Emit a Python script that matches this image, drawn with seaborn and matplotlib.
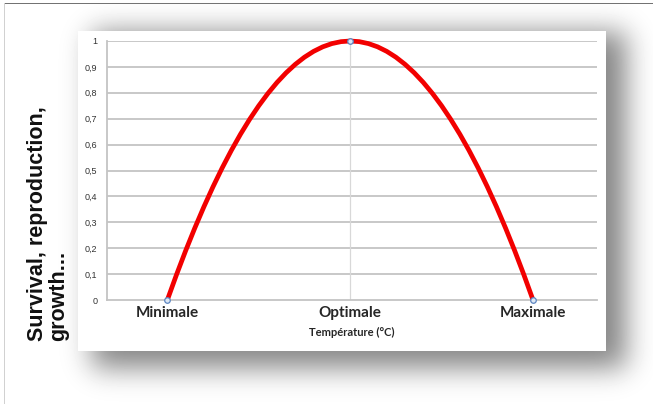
import math
import numpy as np
import pandas as pd
import matplotlib
matplotlib.use("Agg")
import matplotlib.pyplot as plt
import seaborn as sns

# values (41 points, Minimale -> Optimale -> Maximale)
temp_pos = list(range(41))
survival = [0, 0.0975, 0.19, 0.2775, 0.36, 0.4375, 0.51, 0.5775, 0.64, 0.6975,
            0.75, 0.7975, 0.84, 0.8775, 0.91, 0.9375, 0.96, 0.9775, 0.99, 0.9975,
            1.0,
            0.9975, 0.99, 0.9775, 0.96, 0.9375, 0.91, 0.8775, 0.84, 0.7975, 0.75,
            0.6975, 0.64, 0.5775, 0.51, 0.4375, 0.36, 0.2775, 0.19, 0.0975, 0]
x_tick_pos = [0, 20, 40]
x_tick_labels = ["Minimale", "Optimale", "Maximale"]
y_ticks = [0, 0.1, 0.2, 0.3, 0.4, 0.5, 0.6, 0.7, 0.8, 0.9, 1.0]
y_tick_labels = ["0", "0,1", "0,2", "0,3", "0,4", "0,5", "0,6", "0,7", "0,8", "0,9", "1"]

df = pd.DataFrame({"pos": temp_pos, "survie": survival})

sns.set_theme(style="white")
plt.rcParams["font.family"] = ["Liberation Sans", "DejaVu Sans"]

W, H = 653, 404
fig = plt.figure(figsize=(W / 100, H / 100), dpi=100)

# background: card with drop shadow and outer frame
erf = np.vectorize(math.erf)
xs = np.arange(W) + 0.5
ys = np.arange(H) + 0.5
def soft(v, a, b, s):
    return 0.5 * (erf((v - a) / (s * 1.414)) - erf((v - b) / (s * 1.414)))
sh = np.outer(soft(ys, 32, 368, 14), soft(xs, 92, 626, 14))
bg = 1 - 0.48 * sh
bg[31:351, 78:606] = 1.0
bg[3, 4:] = 0.45
bg[3:, 4] = 0.82
bg_ax = fig.add_axes([0, 0, 1, 1])
bg_ax.imshow(bg, cmap="gray", vmin=0, vmax=1, aspect="auto", interpolation="bilinear")
bg_ax.axis("off")

ax = fig.add_axes([107 / W, 1 - 300 / H, 490 / W, 259 / H])
ax.set_facecolor("white")

for y in y_ticks[1:]:
    ax.axhline(y, color="#c4c4c4", lw=1.3, zorder=1)
ax.axvline(20, color="#d8d8d8", lw=0.9, zorder=1)

sns.lineplot(data=df, x="pos", y="survie", ax=ax, color="#f20000", lw=3.4,
             marker="o", markevery=[0, 20, 40], markersize=4,
             markerfacecolor="#dbe6f4", markeredgecolor="#5b84c0",
             markeredgewidth=0.9, zorder=3, clip_on=False)

ax.set_xlim(-6.6, 47.0)
ax.set_ylim(0, 1)
ax.set_xticks(x_tick_pos)
ax.set_xticklabels(x_tick_labels, fontsize=11, fontweight="bold",
                   color="#262626", family=["Lato", "DejaVu Sans"])
ax.set_yticks(y_ticks)
ax.set_yticklabels(y_tick_labels, fontsize=6.5, color="#333333")
ax.tick_params(axis="x", length=0, pad=4)
ax.tick_params(axis="y", length=0, pad=7)

for side in ["top", "right"]:
    ax.spines[side].set_visible(False)
ax.spines["left"].set_color("#c4c4c4")
ax.spines["left"].set_linewidth(1.3)
ax.spines["bottom"].set_color("#c4c4c4")
ax.spines["bottom"].set_linewidth(1.3)

ax.set_xlabel("Température (°C)", fontsize=8, fontweight="bold",
              color="#262626", labelpad=5, family=["Lato", "DejaVu Sans"])
ax.set_ylabel("")

fig.text(27 / W, 1 - 341 / H, "Survival, reproduction,\ngrowth...", rotation=90,
         ha="left", va="bottom", multialignment="left", fontsize=15.5,
         fontweight="bold", color="#111111", linespacing=1.0)

plt.savefig("out.png", dpi=100)
